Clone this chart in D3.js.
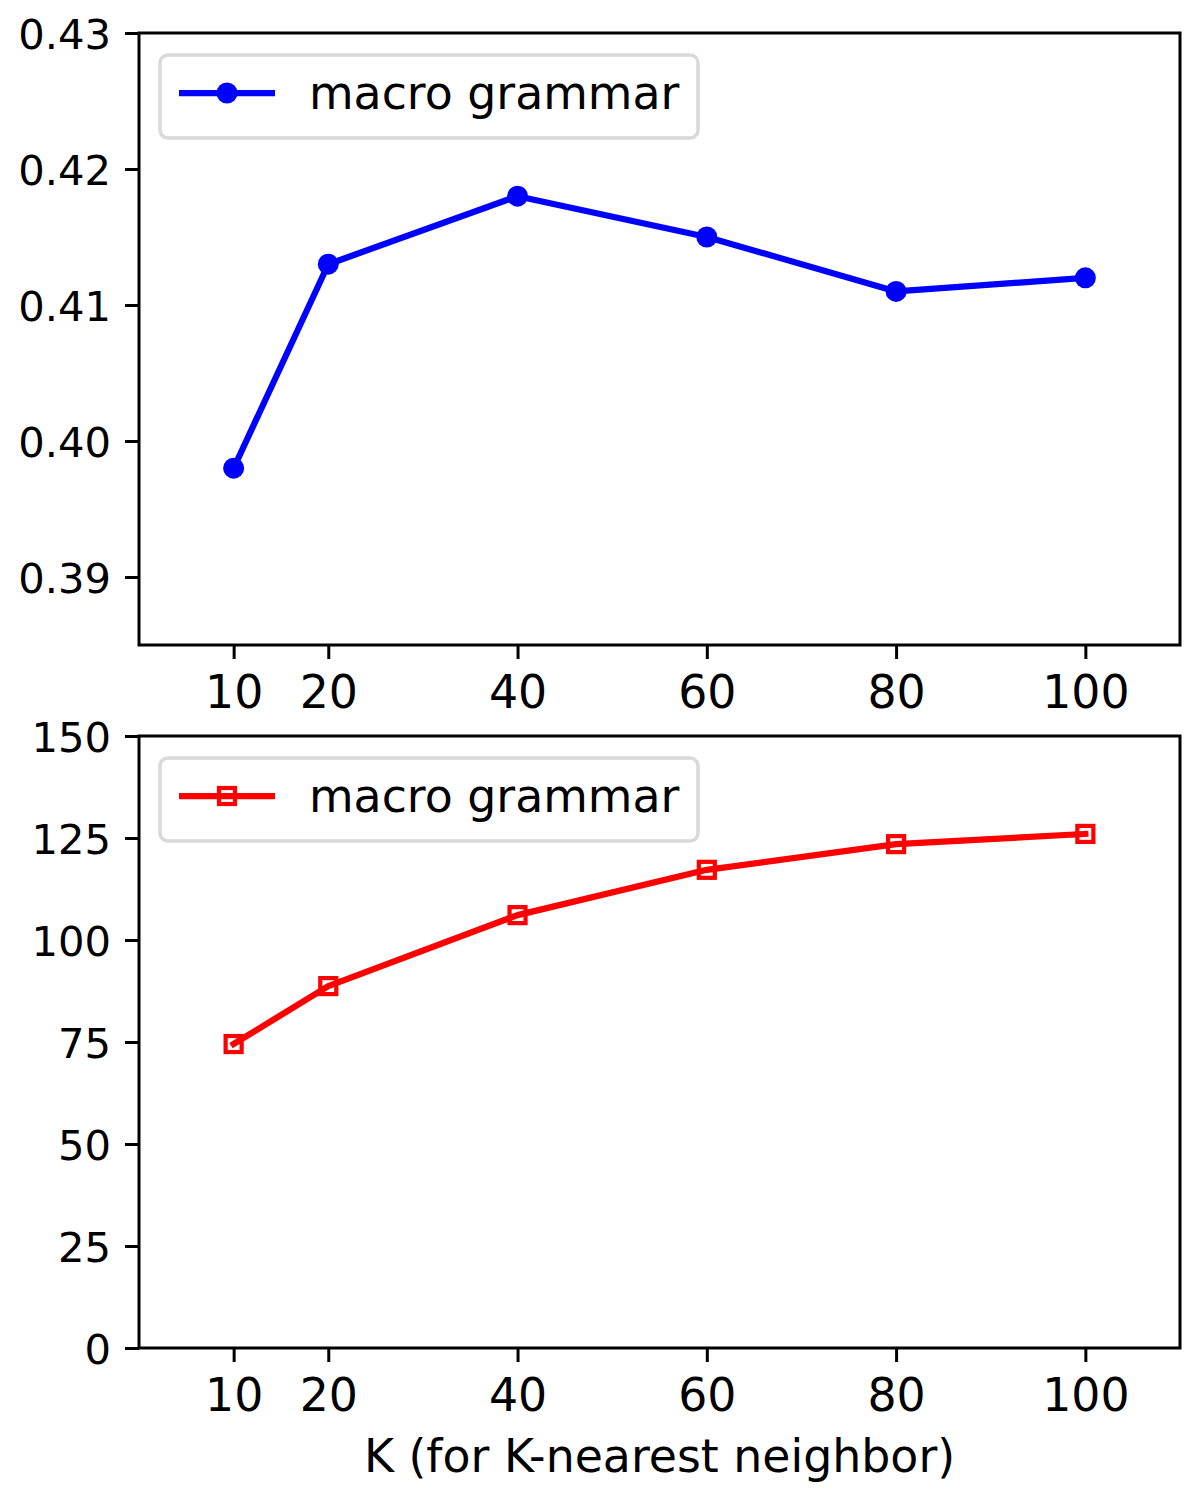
<!DOCTYPE html>
<html>
<head>
<meta charset="utf-8">
<script src="https://cdn.jsdelivr.net/npm/d3@7"></script>
<style>
  body { margin: 0; background: #fff; }
  svg text { font-family: "DejaVu Sans", sans-serif; fill: #000; }
</style>
</head>
<body>
<svg id="chart" width="1200" height="1500"></svg>
<script>
// K values (x axis)
const kValues = [10, 20, 40, 60, 80, 100];
const xTicks = [10, 20, 40, 60, 80, 100];

// top panel: score per K
const scoreValues = [0.398, 0.413, 0.418, 0.415, 0.411, 0.412];
const scoreTicks = [0.39, 0.40, 0.41, 0.42, 0.43];

// bottom panel: size per K
const sizeValues = [74.5, 88.7, 106.1, 117.2, 123.5, 126.0];
const sizeTicks = [0, 25, 50, 75, 100, 125, 150];

const seriesName = "macro grammar";

const svg = d3.select("#chart");
const left = 139, right = 1180;
const lineW = 6.25;

// shared x scale
const x = d3.scaleLinear().domain([0, 110]).range([left, right]);

function drawPanel(top, bottom, yDomain, yTicks, yFormat, values, color, marker) {
    const y = d3.scaleLinear().domain(yDomain).range([bottom, top]);
    const g = svg.append("g");

    // line
    const line = d3.line()
        .x((d, i) => x(kValues[i]))
        .y(d => y(d));
    g.append("path")
        .datum(values)
        .attr("fill", "none")
        .attr("stroke", color)
        .attr("stroke-width", lineW)
        .attr("stroke-linejoin", "round")
        .attr("stroke-linecap", "square")
        .attr("d", line);

    // markers
    if (marker === "circle") {
        g.selectAll(".pt").data(values).enter().append("circle")
            .attr("cx", (d, i) => x(kValues[i]))
            .attr("cy", d => y(d))
            .attr("r", 10.5)
            .attr("fill", color);
    } else {
        g.selectAll(".pt").data(values).enter().append("rect")
            .attr("x", (d, i) => x(kValues[i]) - 8)
            .attr("y", d => y(d) - 8)
            .attr("width", 16)
            .attr("height", 16)
            .attr("fill", "none")
            .attr("stroke", color)
            .attr("stroke-width", 4.2);
    }

    // axes
    const yAxis = g.append("g")
        .attr("transform", `translate(${left},0)`)
        .call(d3.axisLeft(y).tickValues(yTicks).tickFormat(yFormat).tickSize(14).tickPadding(14));
    yAxis.selectAll("text").attr("font-size", 41.7).attr("dy", "0.36em");

    const xAxis = g.append("g")
        .attr("transform", `translate(0,${bottom})`)
        .call(d3.axisBottom(x).tickValues(xTicks).tickSize(14).tickPadding(14));
    xAxis.selectAll("text").attr("font-size", 45.8).attr("dy", "0.76em");

    [yAxis, xAxis].forEach(a => {
        a.select(".domain").remove();
        a.selectAll("line").attr("stroke", "#000").attr("stroke-width", 3);
        a.selectAll("text").attr("font-family", "DejaVu Sans").attr("fill", "#000");
    });

    // frame
    g.append("rect")
        .attr("x", left).attr("y", top)
        .attr("width", right - left).attr("height", bottom - top)
        .attr("fill", "none")
        .attr("stroke", "#000")
        .attr("stroke-width", 3);

    // legend
    const lg = g.append("g").attr("transform", `translate(160,${top + 22})`);
    lg.append("rect")
        .attr("x", 0).attr("y", 0)
        .attr("width", 538).attr("height", 83)
        .attr("rx", 8)
        .attr("fill", "#fff")
        .attr("fill-opacity", 0.8)
        .attr("stroke", "#d9d9d9")
        .attr("stroke-width", 3.5);
    lg.append("line")
        .attr("x1", 19).attr("x2", 115)
        .attr("y1", 38).attr("y2", 38)
        .attr("stroke", color)
        .attr("stroke-width", lineW);
    if (marker === "circle") {
        lg.append("circle").attr("cx", 67).attr("cy", 38).attr("r", 10.5).attr("fill", color);
    } else {
        lg.append("rect").attr("x", 59).attr("y", 30).attr("width", 16).attr("height", 16)
            .attr("fill", "none").attr("stroke", color).attr("stroke-width", 4.2);
    }
    lg.append("text")
        .attr("x", 149).attr("y", 54)
        .attr("font-size", 45.8)
        .text(seriesName);
}

drawPanel(33, 645, [0.385, 0.43], scoreTicks, d3.format(".2f"), scoreValues, "#0000ff", "circle");
drawPanel(736, 1348, [0, 150], sizeTicks, d3.format("d"), sizeValues, "#ff0000", "square");

svg.append("text")
    .attr("x", (left + right) / 2)
    .attr("y", 1472)
    .attr("text-anchor", "middle")
    .attr("font-size", 45.8)
    .text("K (for K-nearest neighbor)");
</script>
</body>
</html>
